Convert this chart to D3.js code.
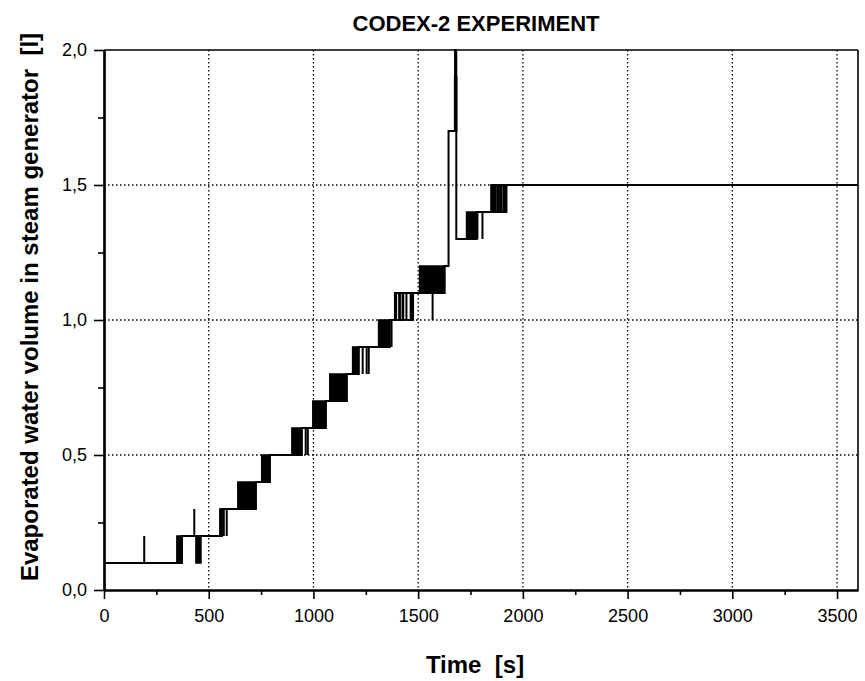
<!DOCTYPE html>
<html><head><meta charset="utf-8">
<script src="https://cdn.jsdelivr.net/npm/d3@7"></script>
<style>
html,body{margin:0;padding:0;background:#fff;}
svg{display:block;}
</style></head>
<body>
<svg id="chart" width="865" height="681"></svg>
<script>
// ---- data ----
const chartTitle = "CODEX-2 EXPERIMENT";
const xTicks = [0, 500, 1000, 1500, 2000, 2500, 3000, 3500];
const xMinorTicks = [250, 750, 1250, 1750, 2250, 2750, 3250];
const yTicks = [0, 0.5, 1.0, 1.5, 2.0];
const yTickLabels = ["0,0", "0,5", "1,0", "1,5", "2,0"];
const yMinorTicks = [0.25, 0.75, 1.25, 1.75];

// main stepped level of the signal (step-after)
const stepTime  = [0,   372, 563, 725, 792, 944, 1059, 1159, 1216, 1364, 1389, 1626, 1645, 1676, 1682, 1779, 1850, 3600];
const stepValue = [0.1, 0.2, 0.3, 0.4, 0.5, 0.6, 0.7,  0.8,  0.9,  1.0,  1.1,  1.2,  1.7,  2.0,  1.3,  1.4,  1.5,  1.5];

// regions where the signal toggles rapidly between two levels
const blockStart = [348, 439, 553, 639, 753, 897, 997,  1078, 1187, 1311, 1389, 1408, 1424, 1463, 1507, 1674, 1731, 1850, 1876, 1890, 1908];
const blockEnd   = [372, 463, 563, 725, 792, 944, 1059, 1159, 1216, 1364, 1396, 1414, 1430, 1476, 1626, 1684, 1779, 1868, 1884, 1900, 1918];
const blockLow   = [0.1, 0.1, 0.2, 0.3, 0.4, 0.5, 0.6,  0.7,  0.8,  0.9,  1.0,  1.0,  1.0,  1.0,  1.1,  1.7,  1.3,  1.4,  1.4,  1.4,  1.4];
const blockHigh  = [0.2, 0.2, 0.3, 0.4, 0.5, 0.6, 0.7,  0.8,  0.9,  1.0,  1.1,  1.1,  1.1,  1.1,  1.2,  1.9,  1.4,  1.5,  1.5,  1.5,  1.5];

// outline of sparse toggling regions
const bandStart = [1389, 1850];
const bandEnd   = [1476, 1922];
const bandLow   = [1.0, 1.4];
const bandHigh  = [1.1, 1.5];

// isolated single-sample spikes
const spikeTime = [192, 431, 572, 586, 963, 973, 1235, 1254, 1264, 1373, 1444, 1569, 1783, 1807];
const spikeFrom = [0.1, 0.2, 0.3, 0.3, 0.6, 0.6, 0.9,  0.9,  0.9,  1.0,  1.0,  1.1,  1.4,  1.4];
const spikeTo   = [0.2, 0.3, 0.2, 0.2, 0.5, 0.5, 0.8,  0.8,  0.8,  0.9,  1.1,  1.0,  1.3,  1.3];

// ---- layout ----
const L = 104, R = 858, T = 50, B = 590;
const svg = d3.select("#chart");
svg.append("rect").attr("width", 865).attr("height", 681).attr("fill", "#fff");

const x = d3.scaleLinear().domain([0, 3600]).range([L, R]);
const y = d3.scaleLinear().domain([0, 2.0]).range([B, T]);

// grid
const grid = svg.append("g").attr("stroke", "#000").attr("stroke-width", 1.3).attr("stroke-dasharray", "1.5,2.5").attr("fill", "none");
xTicks.filter(d => d > 0).forEach(d => {
  grid.append("line").attr("x1", x(d)).attr("x2", x(d)).attr("y1", T).attr("y2", B);
});
yTicks.filter(d => d > 0 && d < 2).forEach(d => {
  grid.append("line").attr("x1", L).attr("x2", R).attr("y1", y(d)).attr("y2", y(d));
});

// data
const dataG = svg.append("g");
const stepData = stepTime.map((t, i) => [t, stepValue[i]]);
dataG.append("path")
  .datum(stepData)
  .attr("fill", "none").attr("stroke", "#000").attr("stroke-width", 2)
  .attr("d", d3.line().x(d => x(d[0])).y(d => y(d[1])).curve(d3.curveStepAfter));

blockStart.forEach((s, i) => {
  dataG.append("rect")
    .attr("x", x(s)).attr("width", Math.max(1, x(blockEnd[i]) - x(s)))
    .attr("y", y(blockHigh[i])).attr("height", y(blockLow[i]) - y(blockHigh[i]))
    .attr("fill", "#000").attr("stroke", "#000").attr("stroke-width", 1.5);
});
bandStart.forEach((s, i) => {
  dataG.append("rect")
    .attr("x", x(s)).attr("width", x(bandEnd[i]) - x(s))
    .attr("y", y(bandHigh[i])).attr("height", y(bandLow[i]) - y(bandHigh[i]))
    .attr("fill", "none").attr("stroke", "#000").attr("stroke-width", 1.8);
});
spikeTime.forEach((t, i) => {
  dataG.append("line")
    .attr("x1", x(t)).attr("x2", x(t))
    .attr("y1", y(spikeFrom[i])).attr("y2", y(spikeTo[i]))
    .attr("stroke", "#000").attr("stroke-width", 2);
});

// frame
svg.append("line").attr("x1", L).attr("x2", R).attr("y1", T).attr("y2", T).attr("stroke", "#000").attr("stroke-width", 1.6);
svg.append("line").attr("x1", R).attr("x2", R).attr("y1", T).attr("y2", B).attr("stroke", "#000").attr("stroke-width", 1.6);

// axes
const font = "'Liberation Sans', Arial, Helvetica, sans-serif";
const xAxis = d3.axisBottom(x).tickValues(xTicks).tickSize(9).tickSizeOuter(0).tickPadding(9).tickFormat(d3.format("d"));
const gx = svg.append("g").attr("transform", `translate(0,${B})`).call(xAxis);
const gxm = svg.append("g").attr("transform", `translate(0,${B})`)
  .call(d3.axisBottom(x).tickValues(xMinorTicks).tickSize(5).tickSizeOuter(0).tickFormat(""));
const yAxis = d3.axisLeft(y).tickValues(yTicks).tickSize(10).tickSizeOuter(0).tickPadding(7)
  .tickFormat((d, i) => yTickLabels[i]);
const gy = svg.append("g").attr("transform", `translate(${L},0)`).call(yAxis);
const gym = svg.append("g").attr("transform", `translate(${L},0)`)
  .call(d3.axisLeft(y).tickValues(yMinorTicks).tickSize(6).tickSizeOuter(0).tickFormat(""));

[gx, gxm, gy, gym].forEach(g => {
  g.select(".domain").attr("stroke", "#000").attr("stroke-width", 2.2);
  g.selectAll(".tick line").attr("stroke", "#000").attr("stroke-width", 1.6);
  g.selectAll(".tick text").attr("fill", "#000").style("font-family", font).style("font-size", "18px");
});
gx.selectAll(".tick text").attr("dy", "0.75em");

// titles
svg.append("text").attr("x", 476).attr("y", 31).attr("text-anchor", "middle")
  .style("font-family", font).style("font-weight", "bold").style("font-size", "22px")
  .text(chartTitle);
svg.append("text").attr("x", 475).attr("y", 673).attr("text-anchor", "middle")
  .style("font-family", font).style("font-weight", "bold").style("font-size", "24px")
  .style("white-space", "pre")
  .text("Time  [s]");
svg.append("text")
  .attr("transform", `translate(38,307) rotate(-90)`)
  .attr("text-anchor", "middle")
  .style("font-family", font).style("font-weight", "bold").style("font-size", "24px")
  .style("white-space", "pre")
  .text("Evaporated water volume in steam generator  [l]");
</script>
</body></html>
